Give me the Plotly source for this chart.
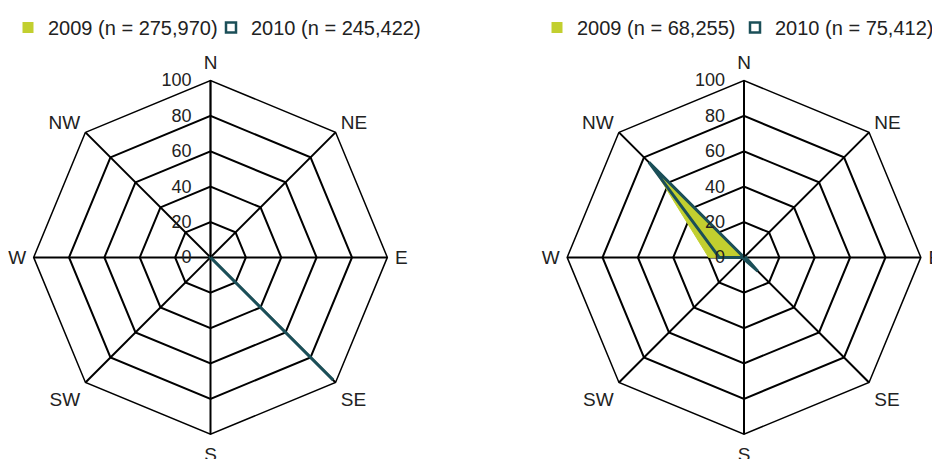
import plotly.graph_objects as go

directions = ["N", "NE", "E", "SE", "S", "SW", "W", "NW"]
radial_ticks = [0, 20, 40, 60, 80, 100]

left_2009 = [0, 0, 0, 97, 0, 0, 0, 1]
left_2010 = [0, 0, 0, 98, 0, 0, 0, 1]
right_2009 = [0, 0, 1, 3, 1, 0, 20, 74]
right_2010 = [0, 0, 1, 11, 1, 0, 14, 76]

left_names = ["2009 (n = 275,970)", "2010 (n = 245,422)"]
right_names = ["2009 (n = 68,255)", "2010 (n = 75,412)"]

C09 = "#c2cf2f"
C10 = "#1b4f58"
FONT = "Liberation Sans, Arial, sans-serif"
W, H = 940, 459

def closed(v):
    return v + v[:1]

theta = closed(directions)

fig = go.Figure()

def add_panel(polar, legends, v09, v10, names):
    fig.add_trace(go.Scatterpolar(r=closed(v09), theta=theta, subplot=polar, mode="lines",
                                  fill="toself", fillcolor=C09, line=dict(color=C09, width=1),
                                  showlegend=False, hoverinfo="skip"))
    fig.add_trace(go.Scatterpolar(r=closed(v10), theta=theta, subplot=polar, mode="lines",
                                  line=dict(color=C10, width=3),
                                  showlegend=False, hoverinfo="skip"))
    fig.add_trace(go.Scatterpolar(r=[None], theta=[None], subplot=polar, mode="markers",
                                  marker=dict(symbol="square", size=11, color=C09),
                                  name=names[0], legend=legends[0]))
    fig.add_trace(go.Scatterpolar(r=[None], theta=[None], subplot=polar, mode="markers",
                                  marker=dict(symbol="square-open", size=10, color=C10,
                                              line=dict(width=2.5, color=C10)),
                                  name=names[1], legend=legends[1]))

add_panel("polar", ["legend", "legend2"], left_2009, left_2010, left_names)
add_panel("polar2", ["legend3", "legend4"], right_2009, right_2010, right_names)

def polar_cfg(xdom):
    return dict(
        domain=dict(x=xdom, y=[33 / H, 389 / H]),
        gridshape="linear",
        bgcolor="white",
        radialaxis=dict(range=[0, 100], tickvals=radial_ticks, angle=90, tickangle=90,
                        side="counterclockwise", showline=True, linecolor="black", linewidth=1.5,
                        gridcolor="black", gridwidth=1.5, ticks="outside", ticklen=12,
                        tickcolor="rgba(0,0,0,0)", layer="above traces",
                        tickfont=dict(family=FONT, size=18, color="#222")),
        angularaxis=dict(categoryarray=directions, categoryorder="array", rotation=90,
                         direction="clockwise", showline=True, linecolor="black", linewidth=1.5,
                         gridcolor="black", gridwidth=1.5, ticks="outside", ticklen=3,
                         tickcolor="rgba(0,0,0,0)", layer="above traces",
                         tickfont=dict(family=FONT, size=19, color="#222")),
    )

def legend_cfg(px):
    return dict(orientation="h", x=px / W, y=1 + 3 / H, xanchor="left", yanchor="top",
                font=dict(family=FONT, size=20, color="#222"), itemwidth=30,
                bgcolor="rgba(0,0,0,0)")

fig.update_layout(
    width=W, height=H,
    margin=dict(l=0, r=0, t=0, b=0),
    paper_bgcolor="white", plot_bgcolor="white",
    font=dict(family=FONT, size=20, color="#222"),
    polar=polar_cfg([24.5 / W, 380.5 / W]),
    polar2=polar_cfg([558 / W, 914 / W]),
    legend=legend_cfg(0),
    legend2=legend_cfg(203),
    legend3=legend_cfg(529),
    legend4=legend_cfg(727),
)

fig.write_html("out.html")
